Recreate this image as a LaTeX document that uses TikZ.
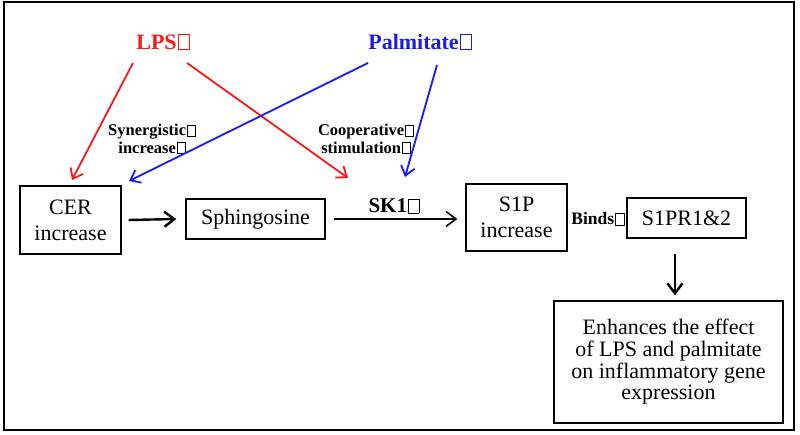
\documentclass[tikz,border=0pt]{standalone}
\usepackage{fontspec}
\setmainfont{Liberation Serif}
\usetikzlibrary{arrows.meta}
\definecolor{lpsred}{RGB}{245,25,25}
\definecolor{palblu}{RGB}{25,25,240}
% empty box after each label, as printed
\newcommand{\bx}{\kern0.06em{\fboxsep=0pt\fboxrule=0.035em\fbox{\rule{0pt}{0.64em}\hspace{0.46em}}}}

\begin{document}
\begin{tikzpicture}[x=1pt,y=-1pt,
  box/.style={draw,line width=1.3pt,align=center,inner sep=0pt,
    font=\fontsize{22}{26}\selectfont},
  lbl/.style={align=center,inner sep=0pt,font=\bfseries\fontsize{16.5}{17.5}\selectfont},
  tip/.style={-{Straight Barb[length=9pt,width=14pt]},line width=1.8pt},
  blk/.style={-{Straight Barb[length=10pt,width=15pt]},line width=2.4pt}]
\useasboundingbox (0,0) rectangle (800,435);
\draw[line width=1.5pt] (4,2) rectangle (794,430);

\node[box,minimum width=101,minimum height=68] (cer) at (70.5,220) {CER\\increase};
\node[box,minimum width=139,minimum height=40] (sph) at (255.5,219) {Sphingosine};
\node[box,minimum width=101,minimum height=67] (sp) at (516.5,217.5) {S1P\\increase};
\node[box,minimum width=119,minimum height=40] (spr) at (686.5,218) {S1PR1\&2};
\node[box,minimum width=229,minimum height=122,font=\fontsize{22}{21.7}\selectfont] (eff) at (668.5,362)
  {Enhances the effect\\of LPS and palmitate\\on inflammatory gene\\expression};

\node[inner sep=0pt,text=lpsred,font=\bfseries\fontsize{22}{24}\selectfont] (lps) at (163,42) {LPS\bx};
\node[inner sep=0pt,text=palblu,font=\bfseries\fontsize{22}{24}\selectfont] (pal) at (420,42) {Palmitate\bx};
\node[lbl] (syn) at (152,139) {Synergistic\bx\\increase\bx};
\node[lbl] (coop) at (366,139) {Cooperative\bx\\stimulation\bx};
\node[inner sep=0pt,font=\bfseries\fontsize{21}{23}\selectfont] (sk) at (394,206) {SK1\bx};
\node[inner sep=0pt,font=\bfseries\fontsize{17.5}{19}\selectfont] (bind) at (598,219) {Binds\bx};

\coordinate (lpsL) at (133,63);
\coordinate (lpsR) at (187,63);
\coordinate (palL) at (368,63);
\coordinate (palR) at (437,65);
\coordinate (cerT) at (72,180);
\coordinate (cerTR) at (129,181);
\coordinate (skL) at (348,178);
\coordinate (skR) at (405,177);

\draw[tip,lpsred] (lpsL) -- (cerT);
\draw[tip,lpsred] (lpsR) -- (skL);
\draw[tip,palblu] (palL) -- (cerTR);
\draw[tip,palblu] (palR) -- (skR);

\draw[blk] ([xshift=7pt]cer.east) -- ([xshift=-9pt]sph.west);
\draw[-{Straight Barb[length=10pt,width=15pt]},line width=1.6pt] ([xshift=8pt]sph.east) -- ([xshift=-8pt,yshift=-1.5pt]sp.west);
\draw[blk] ([yshift=-15pt]spr.south -| 675,0) -- ([yshift=5pt]eff.north -| 675,0);
\end{tikzpicture}
\end{document}
